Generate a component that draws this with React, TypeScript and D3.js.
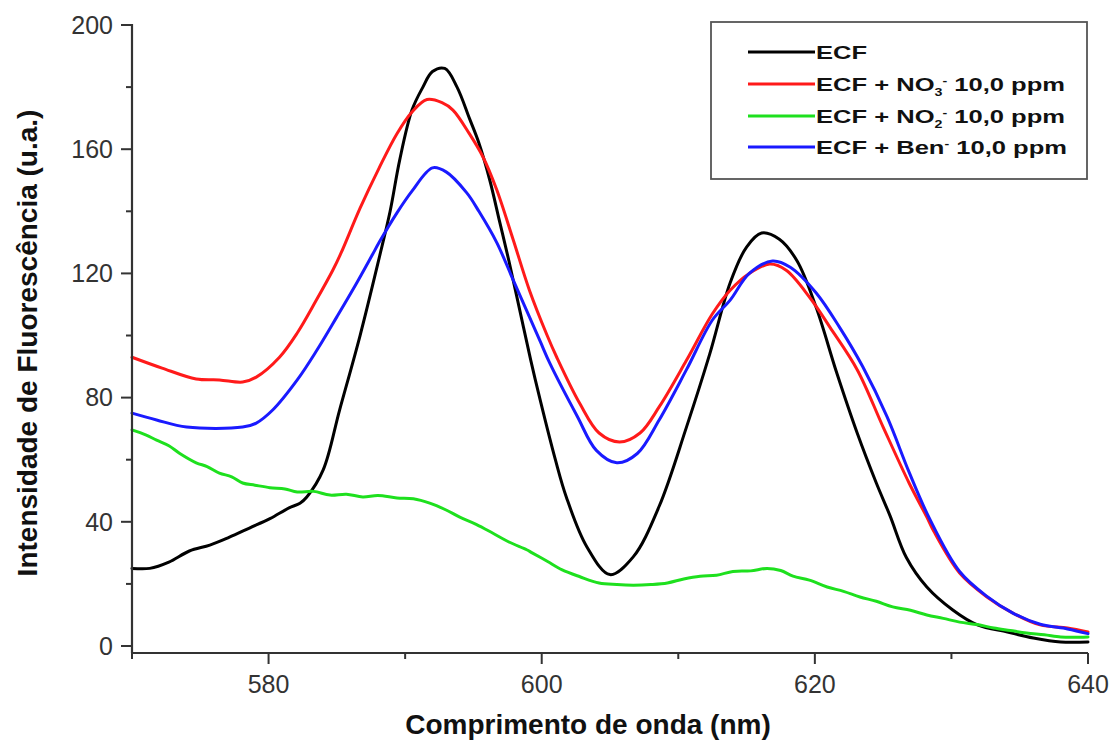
import React from "react";
import * as d3 from "d3";

// ---- data (wavelength nm, intensity u.a.) ----
const ecfX = [570, 571.3, 572.7, 574.2, 575.7, 577.1, 578.6, 580.1, 581.5, 582.3, 582.8, 584.0, 585.2, 586.7, 588.1, 588.9, 589.6, 590.5, 591.3, 592.0, 592.9, 593.8, 594.7, 595.4, 596.2, 596.9, 597.6, 598.4, 599.2, 599.9, 601.0, 601.8, 603.3, 605.0, 606.7, 608.6, 610.6, 612.3, 613.8, 615.0, 616.1, 617.4, 618.7, 620.1, 621.6, 623.1, 624.5, 625.5, 626.7, 628.2, 630.1, 631.9, 634.1, 636.0, 638.0, 640];
const ecfY = [25, 25, 27, 30.6, 32.5, 35, 38, 41, 44.5, 46, 48, 56.7, 76, 100, 125, 140, 156.5, 172.6, 180, 185, 186, 180, 170, 162, 150, 137, 124, 108, 92, 79, 60, 48, 32, 23, 28.7, 45, 70.5, 94, 117, 128.5, 133, 131, 124, 109, 88, 68.6, 52.5, 42, 28.5, 19, 11.6, 6.8, 4.5, 2.6, 1.3, 1.3];

const no3X = [570, 572.2, 574.7, 576.4, 578.1, 579.1, 580.8, 582.1, 583.5, 584.7, 585.3, 586.7, 588.1, 589.4, 590.5, 591.6, 592.7, 593.5, 594.7, 595.7, 596.7, 597.9, 599.1, 600.4, 601.1, 602.8, 604.2, 605.7, 607.2, 608.6, 610.6, 612.5, 613.8, 615.2, 616.7, 617.9, 619.6, 621.1, 623.1, 625.0, 626.9, 628.2, 628.7, 630.6, 632.6, 634.5, 636.5, 638.5, 640];
const no3Y = [93, 89.5, 86, 85.7, 85, 86.6, 93, 100.8, 111.4, 121, 126.5, 141, 154, 165, 172, 176, 175, 172.6, 165, 157.5, 147, 131, 114.6, 100, 93, 78, 68.6, 65.7, 68.6, 77, 92, 107, 114.6, 120, 123, 121, 112.4, 102.7, 89, 70.5, 52.5, 41.5, 37, 23.5, 15.8, 10.6, 6.8, 5.8, 4.5];

const no2X = [570, 571.0, 571.8, 572.7, 573.5, 574.7, 575.5, 576.4, 577.3, 578.1, 579.0, 580.1, 581.2, 582.1, 583.3, 584.5, 585.7, 586.9, 588.0, 589.4, 590.6, 591.8, 593.0, 594.0, 595.2, 596.4, 597.6, 598.9, 599.3, 600.4, 601.5, 602.8, 604.2, 605.5, 606.7, 608.0, 609.2, 610.4, 611.6, 612.8, 614.0, 615.3, 616.5, 617.5, 618.4, 619.6, 620.9, 622.1, 623.3, 624.5, 625.7, 627.0, 628.2, 629.4, 630.6, 631.9, 633.1, 634.3, 635.5, 636.8, 638.0, 639.0, 640];
const no2Y = [69.6, 68.0, 66.3, 64.5, 62, 59, 57.8, 55.7, 54.5, 52.5, 51.8, 51, 50.6, 49.6, 49.8, 48.6, 48.9, 48, 48.5, 47.7, 47.4, 46, 43.8, 41.5, 39.2, 36.4, 33.5, 31, 30, 27.3, 24.5, 22.3, 20.3, 19.8, 19.6, 19.8, 20.3, 21.6, 22.5, 22.8, 24, 24.2, 25, 24.3, 22.5, 21.2, 19, 17.6, 15.8, 14.4, 12.6, 11.5, 10, 8.9, 7.7, 6.9, 5.8, 5.0, 4.2, 3.6, 2.9, 2.8, 2.9];

const benX = [570, 571.8, 574.0, 578.1, 579.1, 580.3, 582.1, 583.5, 585.0, 586.4, 587.6, 588.1, 589.4, 590.5, 592.0, 593.0, 594.5, 595.4, 596.7, 597.9, 599.1, 599.9, 600.6, 602.6, 604.0, 605.5, 607.0, 608.6, 610.6, 612.5, 613.8, 615.2, 616.9, 618.2, 620.1, 621.8, 623.5, 625.3, 626.9, 628.4, 630.6, 632.6, 634.5, 636.5, 638.5, 640];
const benY = [75, 72.8, 70.5, 70.5, 71.8, 76, 85.7, 95, 106, 116.5, 126, 130, 139.5, 146.5, 154, 152.7, 146, 140, 130, 118, 106, 98, 91, 74, 63, 59, 62, 72.8, 89, 105, 111.4, 120, 124, 122, 113.7, 102.7, 90, 73.7, 56, 41, 24, 16, 10.6, 7, 5.5, 4];

const seriesNames = ["ECF", "ECF + NO3- 10,0 ppm", "ECF + NO2- 10,0 ppm", "ECF + Ben- 10,0 ppm"];
const seriesColors = ["#000000", "#ff1a1a", "#1ee01e", "#1a1aff"];

const xTicks = [580, 600, 620, 640];
const xMinorTicks = [570, 590, 610, 630];
const yTicks = [0, 40, 80, 120, 160, 200];
const yMinorTicks = [20, 60, 100, 140, 180];

const xTitle = "Comprimento de onda (nm)";
const yTitle = "Intensidade de Fluorescência (u.a.)";

const FONT = "'Liberation Sans', Arial, Helvetica, sans-serif";

export default function App() {
  const W = 1117;
  const H = 742;
  const left = 132;
  const right = 1088;
  const top = 25;
  const bottom = 653;

  const x = d3.scaleLinear().domain([570, 640]).range([left, right]);
  const y = d3.scaleLinear().domain([-2.25, 200]).range([bottom, top]);

  const line = d3
    .line<[number, number]>()
    .x((d) => x(d[0]))
    .y((d) => y(d[1]))
    .curve(d3.curveCatmullRom.alpha(0.5));

  const zip = (a: number[], b: number[]) => a.map((v, i) => [v, b[i]] as [number, number]);
  const series = [
    { data: zip(ecfX, ecfY), color: seriesColors[0] },
    { data: zip(no3X, no3Y), color: seriesColors[1] },
    { data: zip(no2X, no2Y), color: seriesColors[2] },
    { data: zip(benX, benY), color: seriesColors[3] },
  ];

  const axisColor = "#333";
  const legendRows = [52, 84, 116, 147];

  const legendText = (i: number) => {
    if (i === 0) return <tspan>ECF</tspan>;
    if (i === 1)
      return (
        <>
          <tspan>ECF + NO</tspan>
          <tspan fontSize="10" dy="5">3</tspan>
          <tspan fontSize="10" dy="-12">-</tspan>
          <tspan dy="7"> 10,0 ppm</tspan>
        </>
      );
    if (i === 2)
      return (
        <>
          <tspan>ECF + NO</tspan>
          <tspan fontSize="10" dy="5">2</tspan>
          <tspan fontSize="10" dy="-12">-</tspan>
          <tspan dy="7"> 10,0 ppm</tspan>
        </>
      );
    return (
      <>
        <tspan>ECF + Ben</tspan>
        <tspan fontSize="10" dy="-7">-</tspan>
        <tspan dy="7"> 10,0 ppm</tspan>
      </>
    );
  };

  return (
    <svg
      width={W}
      height={H}
      style={{ position: "fixed", left: 0, top: 0, background: "#fff" }}
      fontFamily={FONT}
    >
      <rect x={0} y={0} width={W} height={H} fill="#fff" />

      {/* series */}
      {series.map((s, i) => (
        <path
          key={i}
          d={line(s.data) || ""}
          fill="none"
          stroke={s.color}
          strokeWidth={3}
          strokeLinejoin="round"
          strokeLinecap="round"
        />
      ))}

      {/* y axis */}
      <line x1={left} x2={left} y1={top - 1} y2={bottom} stroke={axisColor} strokeWidth={2.2} />
      {yTicks.map((t) => (
        <g key={"yt" + t}>
          <line x1={left - 11} x2={left} y1={y(t)} y2={y(t)} stroke={axisColor} strokeWidth={2} />
          <text
            x={left - 19}
            y={y(t)}
            dy="0.35em"
            textAnchor="end"
            fontSize={25}
            fill="#333"
          >
            {t}
          </text>
        </g>
      ))}
      {yMinorTicks.map((t) => (
        <line key={"ym" + t} x1={left - 6} x2={left} y1={y(t)} y2={y(t)} stroke={axisColor} strokeWidth={2} />
      ))}

      {/* x axis */}
      <line x1={left} x2={right} y1={bottom} y2={bottom} stroke={axisColor} strokeWidth={2.2} />
      {xTicks.map((t) => (
        <g key={"xt" + t}>
          <line x1={x(t)} x2={x(t)} y1={bottom} y2={bottom + 11} stroke={axisColor} strokeWidth={2} />
          <text x={x(t)} y={693} textAnchor="middle" fontSize={25} fill="#333">
            {t}
          </text>
        </g>
      ))}
      {xMinorTicks.map((t) => (
        <line key={"xm" + t} x1={x(t)} x2={x(t)} y1={bottom} y2={bottom + 6} stroke={axisColor} strokeWidth={2} />
      ))}

      {/* axis titles */}
      <text x={588} y={734} textAnchor="middle" fontSize={28} fontWeight="bold" fill="#111">
        {xTitle}
      </text>
      <text
        transform={`translate(37, 343) rotate(-90)`}
        textAnchor="middle"
        fontSize={28}
        fontWeight="bold"
        fill="#111"
      >
        {yTitle}
      </text>

      {/* legend */}
      <rect x={711} y={22} width={376} height={157} fill="#fff" stroke="#555" strokeWidth={1.8} />
      {seriesNames.map((name, i) => (
        <g key={name}>
          <line
            x1={748}
            x2={815}
            y1={legendRows[i]}
            y2={legendRows[i]}
            stroke={seriesColors[i]}
            strokeWidth={3}
          />
          <g transform={`translate(816, ${legendRows[i] + 7}) scale(1.42, 1)`}>
            <text x={0} y={0} fontSize={18} fontWeight="bold" fill="#111">
              {legendText(i)}
            </text>
          </g>
        </g>
      ))}
    </svg>
  );
}
